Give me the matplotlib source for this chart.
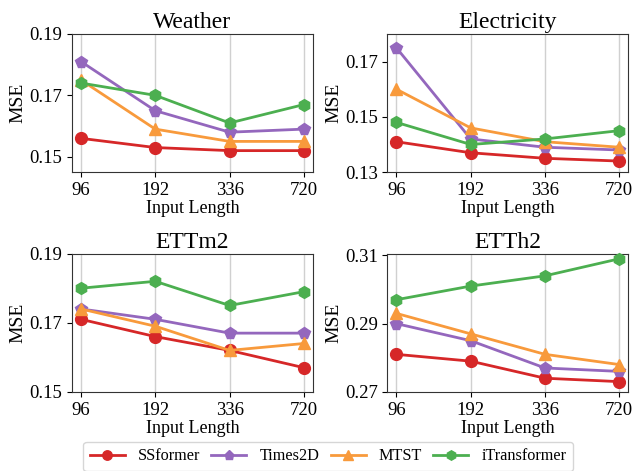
import matplotlib
matplotlib.use('Agg')
import matplotlib.pyplot as plt
import numpy as np

plt.rcParams['font.family'] = ['Liberation Serif', 'DejaVu Serif']

# 输入长度（类别型横轴）
input_lengths = ['96', '192', '336', '720']
models = ['SSformer', 'Times2D', 'MTST', 'iTransformer']
colors = ['#d62728', '#9467bd', '#f89a3c', '#4caf50']
markers = ['o', 'p', '^', 'h']

datasets = ['Weather', 'Electricity', 'ETTm2', 'ETTh2']

weather_ssformer = [0.156, 0.153, 0.152, 0.152]
weather_times2d = [0.181, 0.165, 0.158, 0.159]
weather_mtst = [0.175, 0.159, 0.155, 0.155]
weather_itransformer = [0.174, 0.170, 0.161, 0.167]

elec_ssformer = [0.141, 0.137, 0.135, 0.134]
elec_times2d = [0.175, 0.142, 0.139, 0.138]
elec_mtst = [0.160, 0.146, 0.141, 0.139]
elec_itransformer = [0.148, 0.140, 0.142, 0.145]

ettm2_ssformer = [0.171, 0.166, 0.162, 0.157]
ettm2_times2d = [0.174, 0.171, 0.167, 0.167]
ettm2_mtst = [0.174, 0.169, 0.162, 0.164]
ettm2_itransformer = [0.180, 0.182, 0.175, 0.179]

etth2_ssformer = [0.281, 0.279, 0.274, 0.273]
etth2_times2d = [0.290, 0.285, 0.277, 0.276]
etth2_mtst = [0.293, 0.287, 0.281, 0.278]
etth2_itransformer = [0.297, 0.301, 0.304, 0.309]

all_series = [
    [weather_ssformer, weather_times2d, weather_mtst, weather_itransformer],
    [elec_ssformer, elec_times2d, elec_mtst, elec_itransformer],
    [ettm2_ssformer, ettm2_times2d, ettm2_mtst, ettm2_itransformer],
    [etth2_ssformer, etth2_times2d, etth2_mtst, etth2_itransformer],
]
yticks = [[0.15, 0.17, 0.19], [0.13, 0.15, 0.17], [0.15, 0.17, 0.19], [0.27, 0.29, 0.31]]
ylims = [(0.145, 0.19), (0.13, 0.18), (0.15, 0.19), (0.27, 0.3105)]

fig, axes = plt.subplots(2, 2, figsize=(6.32, 4.71), dpi=100)
fig.subplots_adjust(left=0.114, right=0.994, top=0.928, bottom=0.168,
                    wspace=0.31, hspace=0.59)

x = np.arange(len(input_lengths))
for ax, name, series, yt, yl in zip(axes.flat, datasets, all_series, yticks, ylims):
    for vals, m, c, mk in zip(series, models, colors, markers):
        ax.plot(x, vals, color=c, marker=mk, markersize=8.5, linewidth=2,
                label=m, clip_on=False, zorder=3)
    ax.set_title(name, fontsize=17, pad=4)
    ax.set_xticks(x)
    ax.set_xticklabels(input_lengths, fontsize=13.5)
    ax.set_yticks(yt)
    ax.set_yticklabels([f'{v:.2f}' for v in yt], fontsize=13.5)
    ax.set_ylim(*yl)
    ax.set_xlim(-0.12, 3.12)
    ax.grid(axis='x', color='#d0d0d0', linewidth=1)
    ax.set_axisbelow(True)
    ax.set_xlabel('Input Length', fontsize=13, labelpad=1)
    ax.set_ylabel('MSE', fontsize=14, labelpad=2)
    for s in ax.spines.values():
        s.set_color('#333333')

handles, labels = axes[0, 0].get_legend_handles_labels()
fig.legend(handles, labels, loc='upper center', ncol=4, fontsize=11.7,
           bbox_to_anchor=(0.519, 0.062), frameon=True, handlelength=2.15,
           columnspacing=0.7, handletextpad=0.8, markerscale=0.8,
           borderaxespad=0.0)

plt.savefig('out.png', dpi=100)
